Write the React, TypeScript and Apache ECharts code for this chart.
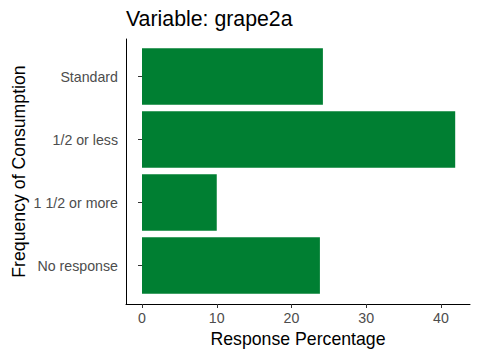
import React, { useEffect, useRef } from "react";
import * as echarts from "echarts";

const categories = ["Standard", "1/2 or less", "1 1/2 or more", "No response"];
const percentages = [24.2, 41.9, 10.0, 23.8];
const xTicks = { min: 0, max: 40, interval: 10 };

const FONT = "Liberation Sans, Arial, sans-serif";

export default function App() {
  const ref = useRef<HTMLDivElement>(null);
  useEffect(() => {
    if (!ref.current) return;
    const chart = echarts.init(ref.current, null, { renderer: "svg" });
    chart.setOption({
      animation: false,
      backgroundColor: "#ffffff",
      textStyle: { fontFamily: FONT },
      title: {
        text: "Variable: grape2a",
        left: 121,
        top: 3,
        textStyle: { fontSize: 21.3, fontWeight: "normal", color: "#000", fontFamily: FONT },
      },
      grid: [
        { left: 126, right: 10, top: 39, bottom: 56, containLabel: false },
        { left: 142, width: 299, top: 45, height: 252, containLabel: false },
      ],
      xAxis: [
        {
          gridIndex: 0,
          type: "value",
          min: 0,
          max: 1,
          axisLine: { show: true, onZero: false, lineStyle: { color: "#000", width: 1 } },
          axisTick: { show: false },
          axisLabel: { show: false },
          splitLine: { show: false },
          name: "Response Percentage",
          nameLocation: "middle",
          nameGap: 26,
          nameTextStyle: { fontSize: 17.7, color: "#000", fontFamily: FONT },
        },
        {
          gridIndex: 1,
          type: "value",
          min: xTicks.min,
          max: xTicks.max,
          interval: xTicks.interval,
          offset: 7,
          axisLine: { show: false },
          axisTick: { show: true, length: 4, lineStyle: { color: "#333333" } },
          axisLabel: { margin: 7, fontSize: 14.2, color: "#4D4D4D", fontFamily: FONT },
          splitLine: { show: false },
        },
      ],
      yAxis: [
        {
          gridIndex: 0,
          type: "value",
          min: 0,
          max: 1,
          axisLine: { show: true, onZero: false, lineStyle: { color: "#000", width: 1 } },
          axisTick: { show: false },
          axisLabel: { show: false },
          splitLine: { show: false },
          name: "Frequency of Consumption",
          nameLocation: "middle",
          nameRotate: 90,
          nameGap: 98,
          nameTextStyle: { fontSize: 17.7, color: "#000", fontFamily: FONT },
        },
        {
          gridIndex: 1,
          type: "category",
          data: categories,
          inverse: true,
          offset: 16,
          axisLine: { show: false },
          axisTick: { show: true, alignWithLabel: true, length: 4, lineStyle: { color: "#333333" } },
          axisLabel: { margin: 8, fontSize: 14.2, color: "#4D4D4D", fontFamily: FONT },
          splitLine: { show: false },
        },
      ],
      series: [
        {
          type: "bar",
          xAxisIndex: 1,
          yAxisIndex: 1,
          data: percentages,
          barWidth: "90%",
          clip: false,
          itemStyle: { color: "#007F32" },
        },
      ],
    });
    return () => chart.dispose();
  }, []);
  return <div ref={ref} style={{ width: 480, height: 360, position: "absolute", left: 0, top: 0 }} />;
}
